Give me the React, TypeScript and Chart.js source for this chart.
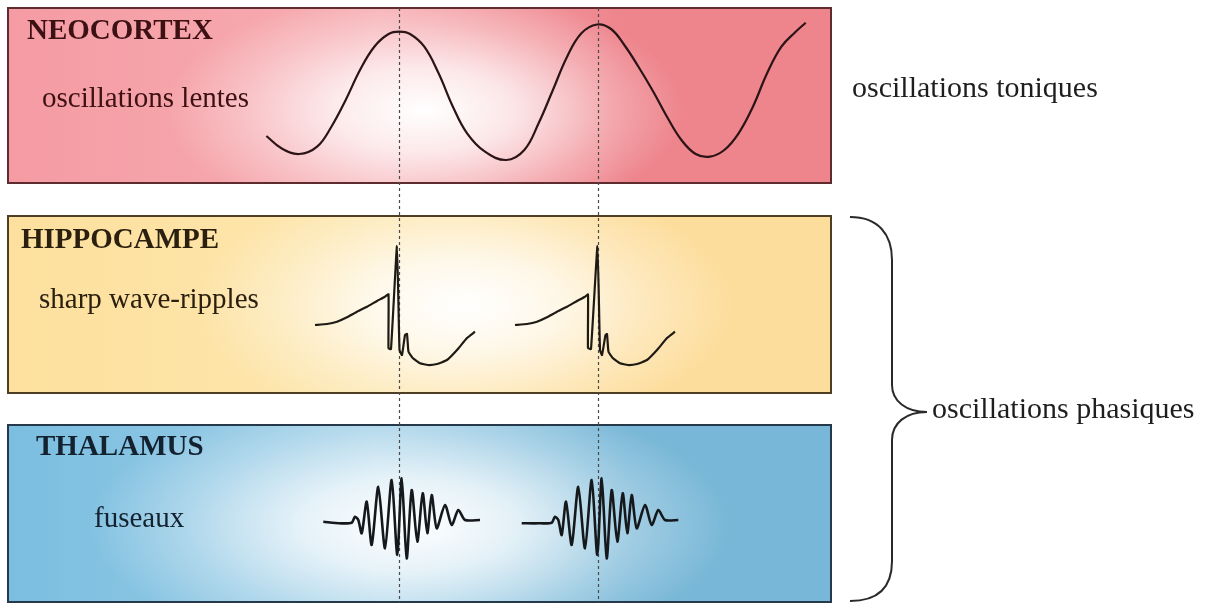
import React, { useEffect, useRef } from "react";
import { Chart, registerables } from "chart.js";

Chart.register(...registerables);

// ---------- data ----------
const regionNames = ["NEOCORTEX", "HIPPOCAMPE", "THALAMUS"];
const rhythmNames = ["oscillations lentes", "sharp wave-ripples", "fuseaux"];
const sideLabels = ["oscillations toniques", "oscillations phasiques"];
const markerTimes = [399, 598];

const neoX = [266.4, 281.4, 299.3, 317.1, 331.4, 345.7, 360, 374.3, 388.6, 399.3, 410, 424.3, 438.6, 452.9, 467.1, 485, 506.4, 524.3, 538.6, 552.9, 567.1, 581.4, 597, 611, 624.3, 638.6, 652.9, 667.1, 681.4, 695.7, 710, 724.3, 738.6, 752.9, 767.1, 781.4, 795.7, 805.7];
const neoY = [136, 148.3, 154, 146.7, 126.7, 100, 70, 46.7, 34, 31.7, 34, 46.7, 73.3, 106.7, 133.3, 151.7, 160, 150, 123.3, 90, 56.7, 33.3, 24.5, 29, 45, 67, 91, 117, 140, 154, 156.7, 150, 133.3, 106.7, 73.3, 46.7, 31.7, 22.7];

const swr1X = [315, 327, 337, 347, 357, 367, 377, 385, 388.5, 388.5, 391, 397, 399.5, 402, 405, 407, 408.5, 413, 420, 428, 437, 447, 457, 467, 475];
const swr1Y = [325, 324, 321.7, 317.3, 311.7, 306.7, 301, 296.7, 294.3, 348.3, 349, 246, 350, 355, 335, 334, 351.7, 358.3, 363.3, 365, 364, 360, 350, 338, 331.7];
const swr2X = [515, 527, 537, 547, 557, 567, 577, 585, 588, 588, 591, 597.5, 600, 602, 605.5, 607, 608.5, 613, 620, 628, 637, 647, 657, 667, 675];
const swr2Y = [325, 324, 321.7, 317.3, 311.7, 306.7, 301, 296.7, 294.5, 348, 349, 246, 350, 355, 335, 334, 351.7, 358.3, 363.3, 365, 364, 360, 350, 338, 331.7];

const spin1X = [323.3, 340, 351.7, 355, 358.3, 361.7, 366.7, 371.7, 378.3, 385, 391.7, 397.3, 401.7, 406.7, 411.7, 417.3, 422.7, 427.3, 431.7, 436.7, 445, 451.7, 458.3, 465, 480];
const spin1Y = [521.7, 523.3, 522.7, 516.7, 520, 533.3, 501.7, 545, 486.7, 548.3, 480, 555, 478.3, 558.3, 490, 541.7, 493.3, 533.3, 495, 528.3, 505, 525, 510, 520, 520];
const spin2X = [521.7, 540, 551.7, 555, 558.3, 561.7, 566, 571.7, 578.3, 585, 591.7, 597.3, 601.7, 606.7, 611.7, 617.3, 622.7, 627.3, 631.7, 636.7, 645, 651.7, 658.3, 665, 678.3];
const spin2Y = [523.3, 523.3, 522.7, 516.7, 520, 535, 501.7, 545, 486.7, 548.3, 480, 555, 478.3, 558.3, 490, 541.7, 493.3, 533.3, 495, 528.3, 505, 525, 510, 520, 520];

// ---------- layout / style (not data) ----------
const W = 1210;
const H = 603;
const SERIF = '"Liberation Serif", "Times New Roman", serif';

const panels = [
  {
    x0: 8, x1: 831, y0: 8, y1: 183,
    left: "#f59ba3", mid: "#f6adb2", right: "#ee848c",
    glow: { cx: 425, cy: 110, rx: 260, ry: 120 },
    border: "#5e2c2e", text: "#3d1014",
    title: { x: 27, y: 39 }, sub: { x: 42, y: 107 },
  },
  {
    x0: 8, x1: 831, y0: 216, y1: 393,
    left: "#fde09e", mid: "#fde6ad", right: "#fddd9c",
    glow: { cx: 465, cy: 305, rx: 270, ry: 130 },
    border: "#4e3f24", text: "#2b200f",
    title: { x: 21, y: 248 }, sub: { x: 39, y: 308 },
  },
  {
    x0: 8, x1: 831, y0: 425, y1: 602,
    left: "#7bbee0", mid: "#9ccde6", right: "#78b7d7",
    glow: { cx: 410, cy: 525, rx: 320, ry: 135 },
    border: "#26394a", text: "#142230",
    title: { x: 36, y: 455 }, sub: { x: 94, y: 527 },
  },
];

const toPts = (xs: number[], ys: number[]) => xs.map((x, i) => ({ x, y: ys[i] }));

const diagramPlugin = {
  id: "diagram",
  beforeDatasetsDraw(chart: any) {
    const ctx: CanvasRenderingContext2D = chart.ctx;
    const sx = chart.scales.x;
    const sy = chart.scales.y;
    const px = (v: number) => sx.getPixelForValue(v);
    const py = (v: number) => sy.getPixelForValue(v);

    panels.forEach((p, i) => {
      const x0 = px(p.x0), x1 = px(p.x1), y0 = py(p.y0), y1 = py(p.y1);
      ctx.save();
      ctx.beginPath();
      ctx.rect(x0, y0, x1 - x0, y1 - y0);
      ctx.clip();
      const lg = ctx.createLinearGradient(x0, 0, x1, 0);
      lg.addColorStop(0, p.left);
      lg.addColorStop(0.45, p.mid);
      lg.addColorStop(0.75, p.right);
      lg.addColorStop(1, p.right);
      ctx.fillStyle = lg;
      ctx.fillRect(x0, y0, x1 - x0, y1 - y0);
      const g = p.glow;
      ctx.save();
      ctx.translate(px(g.cx), py(g.cy));
      ctx.scale(g.rx / g.ry, 1);
      const rg = ctx.createRadialGradient(0, 0, 0, 0, 0, g.ry);
      rg.addColorStop(0, "rgba(255,255,255,1)");
      rg.addColorStop(0.35, "rgba(255,255,255,0.75)");
      rg.addColorStop(0.7, "rgba(255,255,255,0.3)");
      rg.addColorStop(1, "rgba(255,255,255,0)");
      ctx.fillStyle = rg;
      ctx.beginPath();
      ctx.arc(0, 0, g.ry, 0, Math.PI * 2);
      ctx.fill();
      ctx.restore();
      ctx.restore();

      ctx.save();
      ctx.strokeStyle = p.border;
      ctx.lineWidth = 2;
      ctx.strokeRect(x0, y0, x1 - x0, y1 - y0);
      ctx.fillStyle = p.text;
      ctx.textBaseline = "alphabetic";
      ctx.textAlign = "left";
      ctx.font = `bold 29px ${SERIF}`;
      ctx.fillText(regionNames[i], px(p.title.x), py(p.title.y));
      ctx.font = `29px ${SERIF}`;
      ctx.fillText(rhythmNames[i], px(p.sub.x), py(p.sub.y));
      ctx.restore();
    });

    ctx.save();
    ctx.strokeStyle = "#4a4a4a";
    ctx.lineWidth = 1.2;
    ctx.setLineDash([3, 3]);
    markerTimes.forEach((t) => {
      ctx.beginPath();
      ctx.moveTo(px(t) + 0.5, py(8));
      ctx.lineTo(px(t) + 0.5, py(603));
      ctx.stroke();
    });
    ctx.restore();

    ctx.save();
    ctx.strokeStyle = "#2a2a2a";
    ctx.lineWidth = 2;
    ctx.beginPath();
    ctx.moveTo(px(850), py(217));
    ctx.bezierCurveTo(px(878), py(217), px(892), py(234), px(892), py(260));
    ctx.lineTo(px(892), py(385));
    ctx.bezierCurveTo(px(892), py(401), px(906), py(412), px(927), py(412));
    ctx.bezierCurveTo(px(906), py(412), px(892), py(423), px(892), py(440));
    ctx.lineTo(px(892), py(561));
    ctx.bezierCurveTo(px(892), py(587), px(878), py(601), px(850), py(601));
    ctx.stroke();
    ctx.restore();

    ctx.save();
    ctx.fillStyle = "#1e1e1e";
    ctx.font = `30px ${SERIF}`;
    ctx.textBaseline = "alphabetic";
    ctx.fillText(sideLabels[0], px(852), py(97));
    ctx.fillText(sideLabels[1], px(932), py(418));
    ctx.restore();
  },
};

export default function App() {
  const canvasRef = useRef<HTMLCanvasElement | null>(null);

  useEffect(() => {
    if (!canvasRef.current) return;
    const line = (xs: number[], ys: number[], color: string, extra: any = {}) => ({
      data: toPts(xs, ys),
      borderColor: color,
      borderWidth: 2,
      pointRadius: 0,
      fill: false,
      showLine: true,
      ...extra,
    });
    const chart = new Chart(canvasRef.current, {
      type: "line",
      data: {
        datasets: [
          line(neoX, neoY, "#2a1416", { tension: 0.4, borderWidth: 2.2 }),
          line(swr1X, swr1Y, "#1e1a14", { tension: 0.12, borderWidth: 2.2 }),
          line(swr2X, swr2Y, "#1e1a14", { tension: 0.12, borderWidth: 2.2 }),
          line(spin1X, spin1Y, "#15191c", { tension: 0.25, borderWidth: 2.6 }),
          line(spin2X, spin2Y, "#15191c", { tension: 0.25, borderWidth: 2.6 }),
        ] as any,
      },
      options: {
        animation: false,
        responsive: false,
        maintainAspectRatio: false,
        events: [],
        layout: { padding: 0 },
        plugins: {
          legend: { display: false },
          tooltip: { enabled: false },
          title: { display: false },
        },
        scales: {
          x: { type: "linear", min: 0, max: W, display: false },
          y: { type: "linear", min: 0, max: H, reverse: true, display: false },
        },
      },
      plugins: [diagramPlugin],
    });
    return () => chart.destroy();
  }, []);

  return (
    <div style={{ position: "absolute", left: 0, top: 0, width: W, height: H, background: "#ffffff" }}>
      <canvas ref={canvasRef} width={W} height={H} style={{ display: "block", width: W, height: H }} />
    </div>
  );
}
